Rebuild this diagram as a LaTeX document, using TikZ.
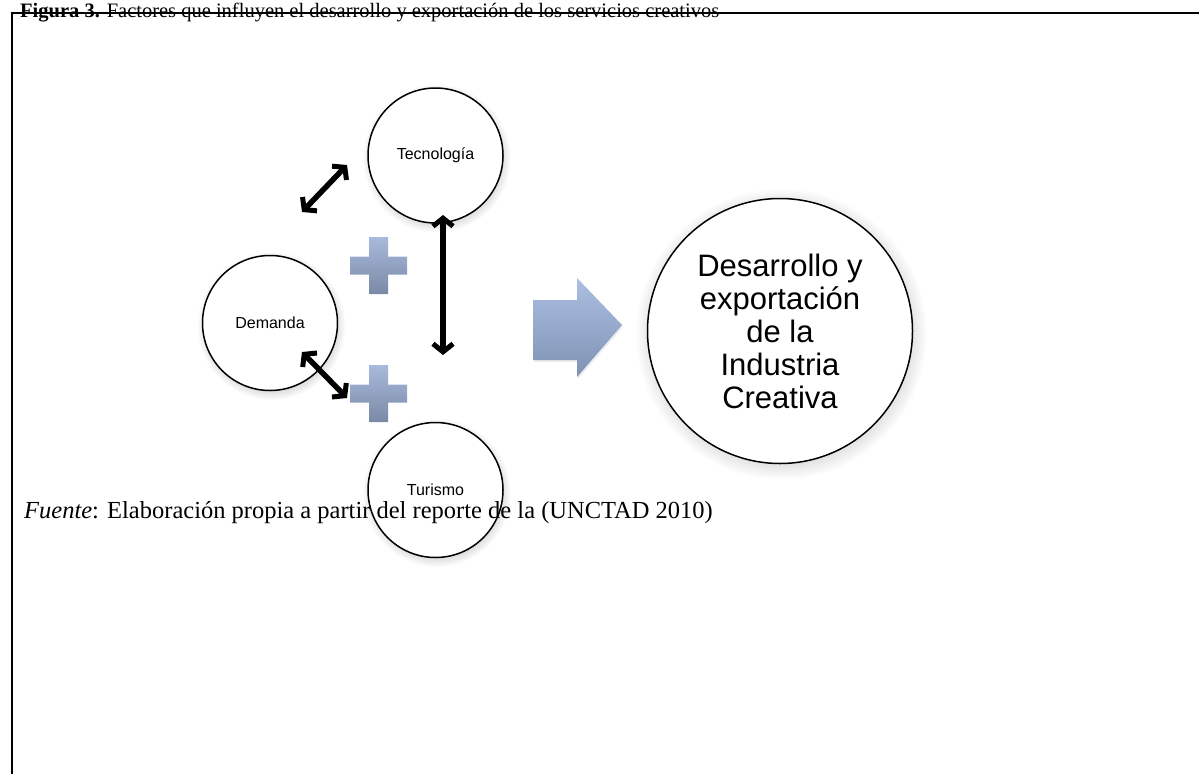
\documentclass[tikz,border=0pt]{standalone}
\usepackage{fontspec}
\setmainfont{Liberation Serif}
\setsansfont{Liberation Sans}
\usetikzlibrary{arrows.meta,positioning,shadows}
\definecolor{plustop}{RGB}{168,186,221}
\definecolor{plusbot}{RGB}{122,137,166}
\definecolor{arrtop}{RGB}{172,191,226}
\definecolor{arrbot}{RGB}{128,146,180}
\tikzset{
  factor/.style={circle,draw,fill=white,line width=1.5pt,minimum size=135pt,inner sep=0pt,
    font=\sffamily\fontsize{16}{19}\selectfont,
    circular drop shadow={shadow xshift=1pt,shadow yshift=-2.5pt,opacity=0.3}},
  result/.style={factor,minimum size=265pt,align=center,
    font=\sffamily\fontsize{31}{33}\selectfont},
  link/.style={line width=5.5pt,
    {Straight Barb[length=8pt,width=20pt,line width=5pt]}-{Straight Barb[length=8pt,width=20pt,line width=5pt]}},
  plusbox/.style={top color=plustop,bottom color=plusbot},
}

\begin{document}
\begin{tikzpicture}[x=1pt,y=-1pt,on grid]
\useasboundingbox (0,0) rectangle (1199,774);

% factors
\node[factor] (tec) at (435.5,155.5) {Tecnología};
\node[factor,below left=167.5pt and 165.5pt of tec] (dem) {Demanda};
\node[factor,below=334.5pt of tec] (tur) {Turismo};
\node[result,below right=175.5pt and 344.5pt of tec] (ind) {Desarrollo y\\exportación\\de la\\Industria\\Creativa};

% plus signs
\foreach \cy in {265.5,393.5}
  \shade[plusbox] (369,{\cy-28.5}) -- (388,{\cy-28.5}) -- (388,{\cy-9}) -- (407,{\cy-9})
    -- (407,{\cy+9}) -- (388,{\cy+9}) -- (388,{\cy+28.5}) -- (369,{\cy+28.5})
    -- (369,{\cy+9}) -- (350,{\cy+9}) -- (350,{\cy-9}) -- (369,{\cy-9}) -- cycle;

% big arrow
\shade[top color=arrtop,bottom color=arrbot,
  drop shadow={shadow xshift=1pt,shadow yshift=-2pt,opacity=0.15}]
  (533,300) -- (577,300) -- (577,278) -- (622,325) -- (577,377) -- (577,360) -- (533,360) -- cycle;

% double arrows
\coordinate (dem up) at (302,212);
\coordinate (tec left) at (347,165);
\coordinate (tec down) at (443,215);
\coordinate (mid end) at (443,355);
\coordinate (dem down) at (302,352);
\coordinate (tur left) at (347,398);
\draw[link] (dem up) -- (tec left);
\draw[link] (tec down) -- (mid end);
\draw[link] (dem down) -- (tur left);

% source and caption
\node[anchor=base west,inner sep=0pt,font=\fontsize{24.5}{28}\selectfont] (src) at (24,518)
  {\textit{Fuente}: Elaboración propia a partir del reporte de la (UNCTAD 2010)};
\node[anchor=base west,inner sep=0pt,font=\fontsize{20.5}{24}\selectfont] (title) at (20,17)
  {\textbf{Figura 3.} Factores que influyen el desarrollo y exportación de los servicios creativos};
\draw[line width=1.5pt] (12,774) -- (12,13) -- (1199,13);
\end{tikzpicture}
\end{document}
